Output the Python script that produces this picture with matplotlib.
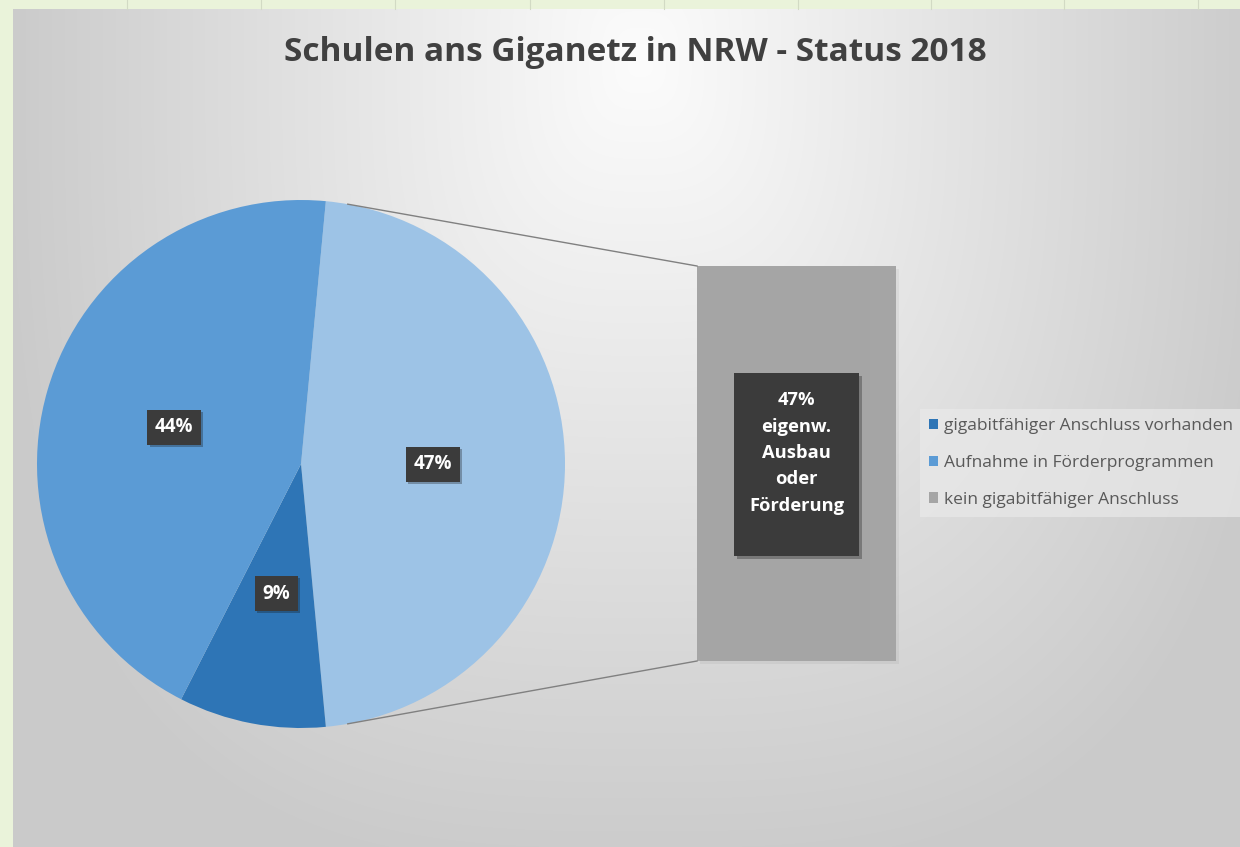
import numpy as np
import matplotlib
matplotlib.use("Agg")
import matplotlib.pyplot as plt
from matplotlib.patches import Patch, Rectangle
import matplotlib.patheffects as pe

plt.rcParams["font.family"] = ["Open Sans", "DejaVu Sans"]

# data (Status 2018)
title = "Schulen ans Giganetz in NRW - Status 2018"
categories = ["gigabitfähiger Anschluss vorhanden",
              "Aufnahme in Förderprogrammen",
              "kein gigabitfähiger Anschluss"]
shares = [9, 44, 47]
colors = ["#2e75b6", "#5b9bd5", "#a5a5a5"]
bar_label = "47%\neigenw.\nAusbau\noder\nFörderung"

W, H = 1240, 847
fig = plt.figure(figsize=(W / 100, H / 100), dpi=100)
ax = fig.add_axes([0, 0, 1, 1])
ax.set_xlim(0, W)
ax.set_ylim(0, H)
ax.set_aspect("equal")
ax.axis("off")

# background: green sheet border + gray gradient chart area
yy, xx = np.mgrid[0:H, 0:W]
d = (np.abs((xx - 640) / 640) ** 3 + np.abs((yy - 60) / 820) ** 3) ** (1 / 3)
val = 252 - 50 * np.clip(d, 0, 1)
img = np.dstack([val, val, val]) / 255.0
green = np.array([0.918, 0.953, 0.855])
img[:9, :] = green
img[:, :13] = green
ax.imshow(img, extent=[0, W, 0, H], origin="upper", zorder=0)
for gx in [127, 261, 395, 530, 664, 798, 931, 1064, 1198]:
    ax.plot([gx, gx], [H - 9, H], color="#d2dac4", lw=0.8, zorder=1)

ax.text(635, H - 52, title, ha="center", va="center", fontsize=24,
        fontweight="bold", color="#404040", zorder=5)

# pie of the first two categories plus the "rest" slice (light blue)
cx, cy, r = 301, H - 464, 264
pie_vals = [shares[2], shares[0], shares[1]]
pie_cols = ["#9dc3e6", colors[0], colors[1]]
start = shares[2] / sum(shares) * 360 / 2
wedges, texts, autotexts = ax.pie(
    pie_vals, colors=pie_cols, startangle=start, counterclock=False,
    center=(cx, cy), radius=r, autopct="%.0f%%", pctdistance=0.5,
    frame=True, wedgeprops=dict(linewidth=0),
    textprops=dict(color="white", fontsize=13.5, fontweight="bold"))
for w in wedges:
    w.set_zorder(3)
for t in autotexts:
    t.set_zorder(6)
    t.set_bbox(dict(boxstyle="square,pad=0.4", fc="#3b3b3b", ec="none"))
    t.get_bbox_patch().set_path_effects(
        [pe.SimplePatchShadow(offset=(1.5, -1.5), alpha=0.3), pe.Normal()])
ax.set_xlim(0, W)
ax.set_ylim(0, H)
ax.axis("off")

# bar of pie (single stacked segment)
bx, bw = 697, 199
btop, bbot = H - 266, H - 661
bar = ax.bar(bx + bw / 2, btop - bbot, width=bw, bottom=bbot,
             color=colors[2], zorder=3)
bar[0].set_path_effects([pe.SimplePatchShadow(offset=(2, -2), alpha=0.06), pe.Normal()])

# connector lines
ang = np.deg2rad(79.8)
ax.plot([cx + r * np.cos(ang), bx], [cy + r * np.sin(ang), btop],
        color="#808080", lw=1.0, zorder=4)
ax.plot([cx + r * np.cos(ang), bx], [cy - r * np.sin(ang), bbot],
        color="#808080", lw=1.0, zorder=4)

# bar label box
lb = Rectangle((734, H - 556), 125, 183, fc="#3b3b3b", ec="none", zorder=5)
lb.set_path_effects([pe.SimplePatchShadow(offset=(2, -2), alpha=0.3), pe.Normal()])
ax.add_patch(lb)
ax.text(796.5, H - 453, bar_label, ha="center", va="center", color="white",
        fontsize=13.2, fontweight="bold", linespacing=1.6, zorder=6)

# legend
handles = [Patch(fc=c, ec="none") for c in colors]
leg = ax.legend(handles, categories, loc="center left",
                bbox_to_anchor=(920 / W, 1 - 463 / H), fontsize=12.5,
                frameon=True, facecolor="#e9e9e9", edgecolor="none",
                framealpha=0.7, fancybox=False, handlelength=0.55,
                handleheight=0.55, handletextpad=0.35, labelspacing=1.2,
                borderpad=0.5, borderaxespad=0)
for t in leg.get_texts():
    t.set_color("#595959")

fig.savefig("out.png", dpi=100)
